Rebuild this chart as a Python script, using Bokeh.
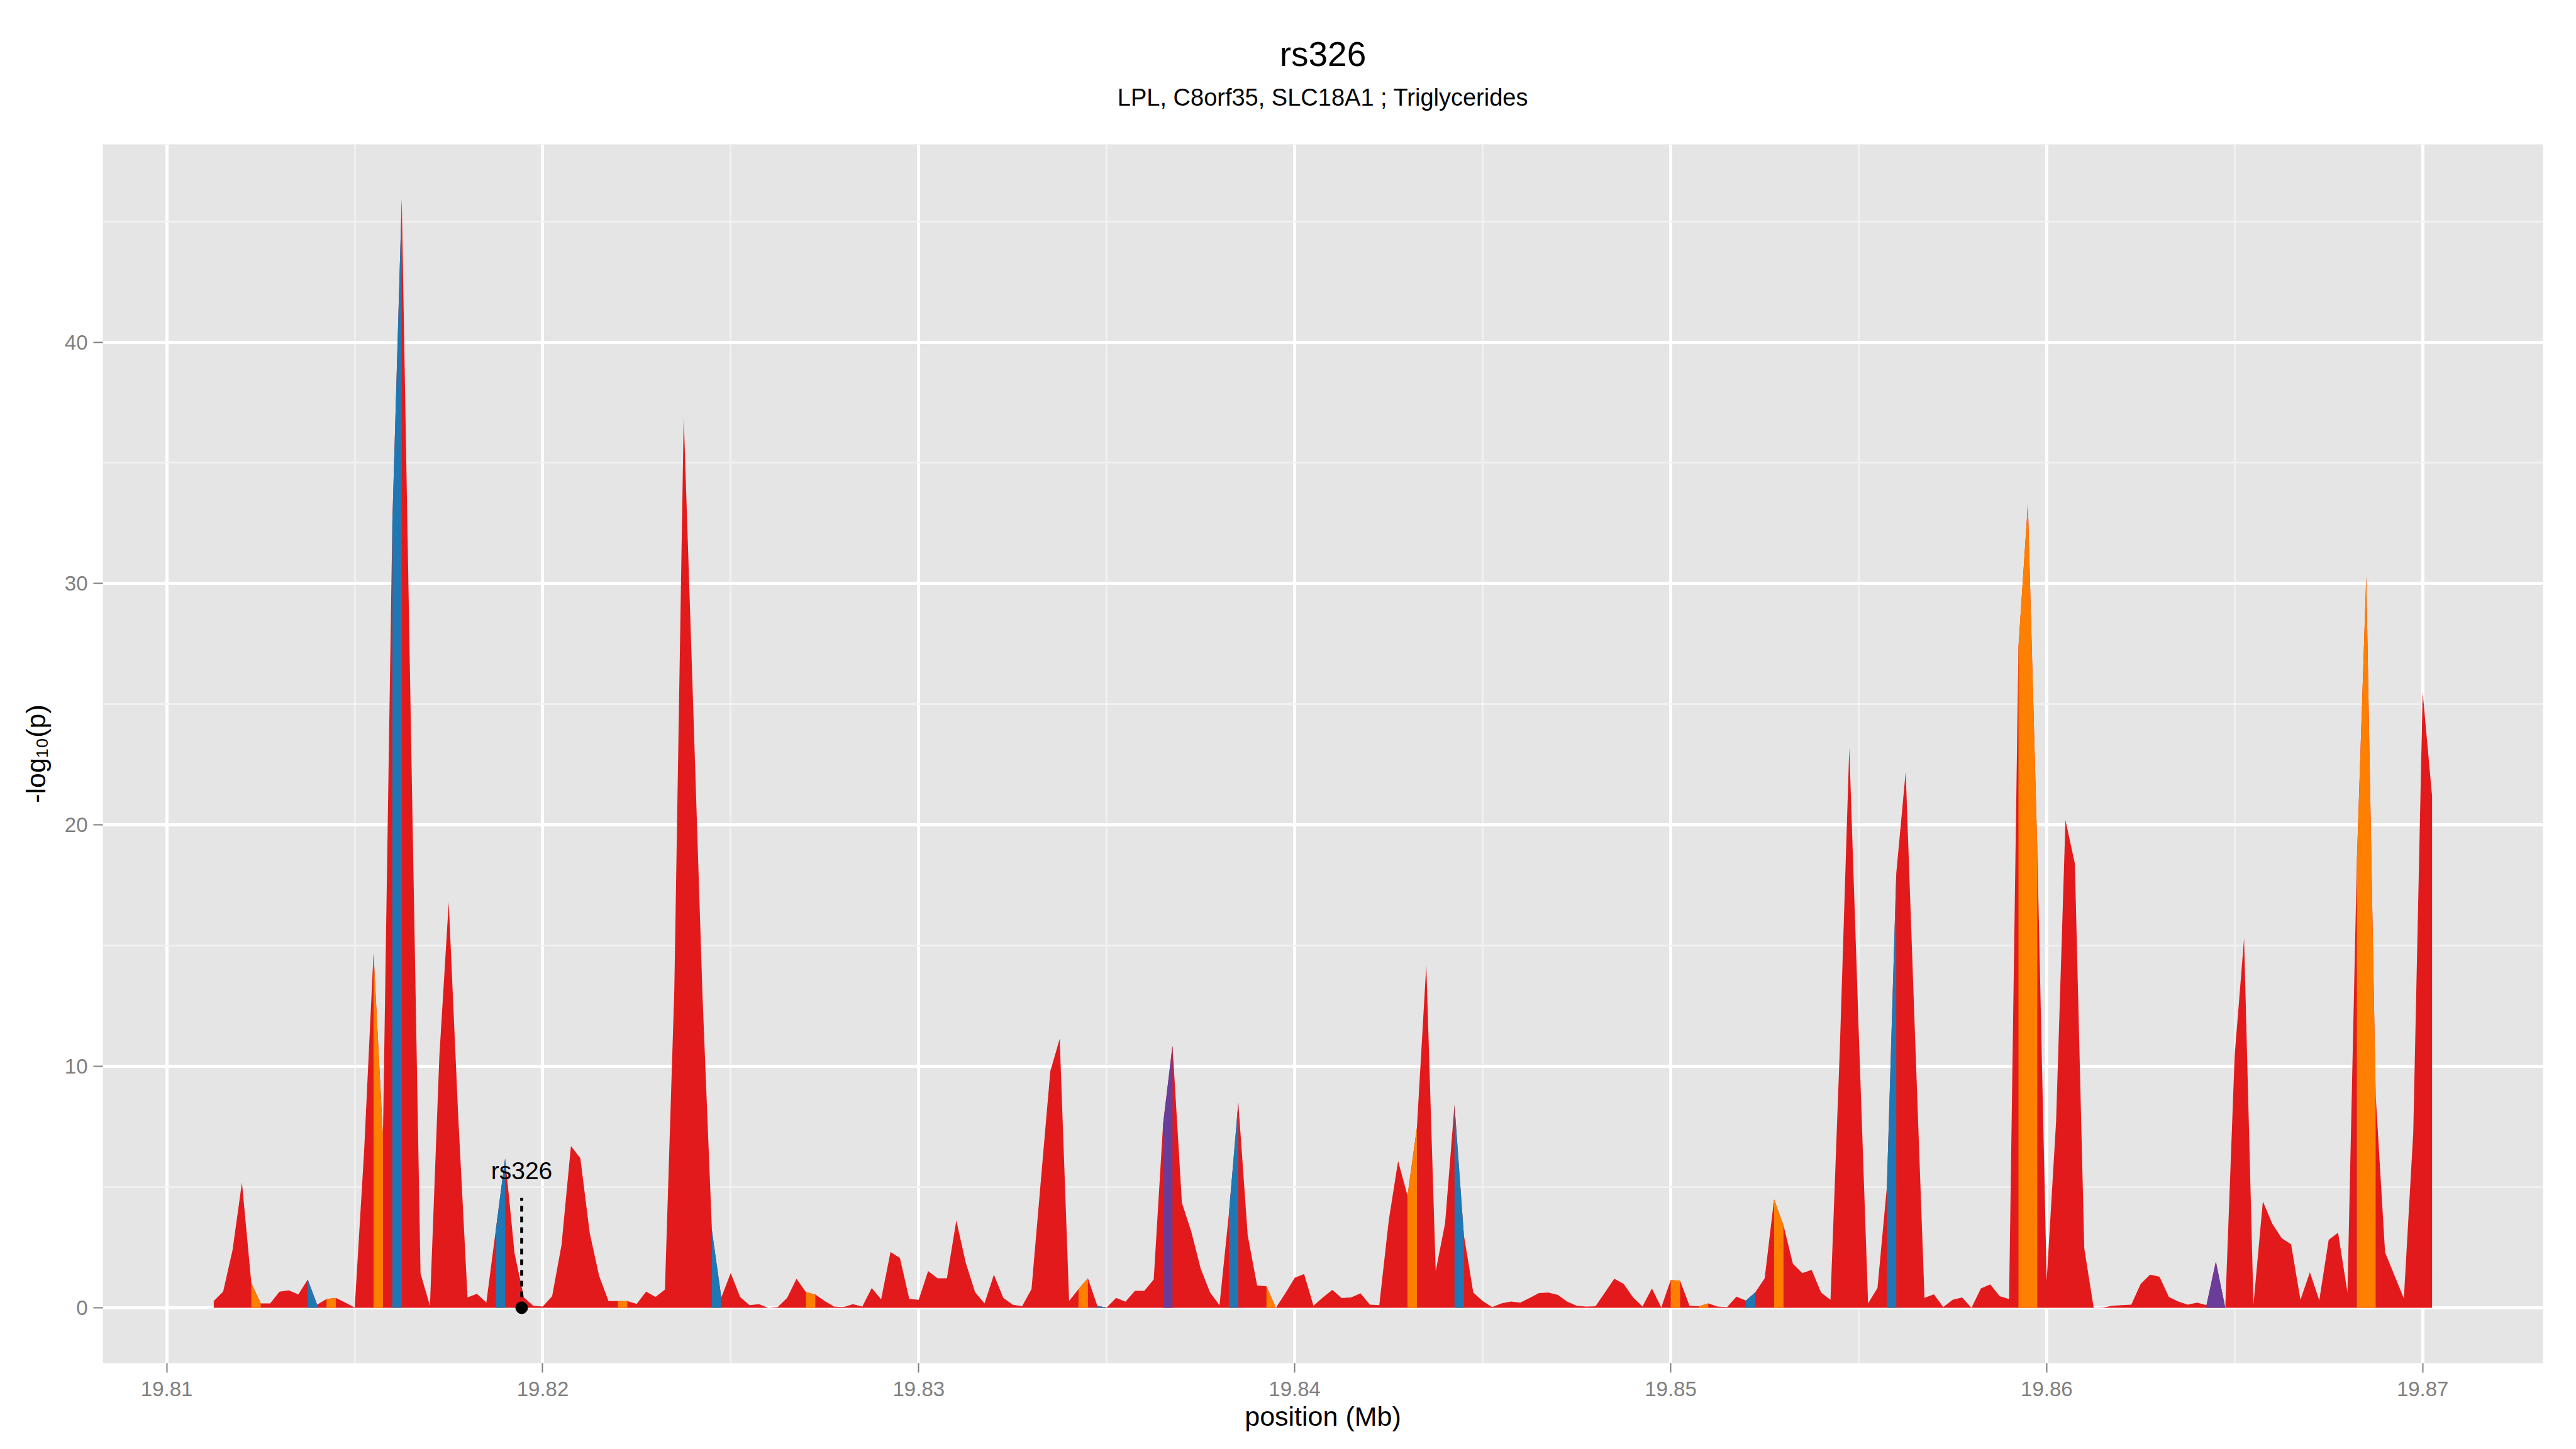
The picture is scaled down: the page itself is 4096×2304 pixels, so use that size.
from bokeh.plotting import figure
from bokeh.models import Range1d, Label, FixedTicker, Title
from bokeh.embed import file_html
from bokeh.resources import INLINE

# ---------------- data ----------------
position_mb = [
    19.81125, 19.8115, 19.81175, 19.812, 19.81225, 19.8125, 19.81275, 19.813,
    19.81325, 19.8135, 19.81375, 19.814, 19.81425, 19.8145, 19.81475, 19.815,
    19.81525, 19.8155, 19.81575, 19.816, 19.81625, 19.8165, 19.81675, 19.817,
    19.81725, 19.8175, 19.81775, 19.818, 19.81825, 19.8185, 19.81875, 19.819,
    19.81925, 19.8195, 19.81975, 19.82, 19.82025, 19.8205, 19.82075, 19.821,
    19.82125, 19.8215, 19.82175, 19.822, 19.82225, 19.8225, 19.82275, 19.823,
    19.82325, 19.8235, 19.82375, 19.824, 19.82425, 19.8245, 19.82475, 19.825,
    19.82525, 19.8255, 19.82575, 19.826, 19.82625, 19.8265, 19.82675, 19.827,
    19.82725, 19.8275, 19.82775, 19.828, 19.82825, 19.8285, 19.82875, 19.829,
    19.82925, 19.8295, 19.82975, 19.83, 19.83025, 19.8305, 19.83075, 19.831,
    19.83125, 19.8315, 19.83175, 19.832, 19.83225, 19.8325, 19.83275, 19.833,
    19.83325, 19.8335, 19.83375, 19.834, 19.83425, 19.8345, 19.83475, 19.835,
    19.83525, 19.8355, 19.83575, 19.836, 19.83625, 19.8365, 19.83675, 19.837,
    19.83725, 19.8375, 19.83775, 19.838, 19.83825, 19.8385, 19.83875, 19.839,
    19.83925, 19.8395, 19.83975, 19.84, 19.84025, 19.8405, 19.84075, 19.841,
    19.84125, 19.8415, 19.84175, 19.842, 19.84225, 19.8425, 19.84275, 19.843,
    19.84325, 19.8435, 19.84375, 19.844, 19.84425, 19.8445, 19.84475, 19.845,
    19.84525, 19.8455, 19.84575, 19.846, 19.84625, 19.8465, 19.84675, 19.847,
    19.84725, 19.8475, 19.84775, 19.848, 19.84825, 19.8485, 19.84875, 19.849,
    19.84925, 19.8495, 19.84975, 19.85, 19.85025, 19.8505, 19.85075, 19.851,
    19.85125, 19.8515, 19.85175, 19.852, 19.85225, 19.8525, 19.85275, 19.853,
    19.85325, 19.8535, 19.85375, 19.854, 19.85425, 19.8545, 19.85475, 19.855,
    19.85525, 19.8555, 19.85575, 19.856, 19.85625, 19.8565, 19.85675, 19.857,
    19.85725, 19.8575, 19.85775, 19.858, 19.85825, 19.8585, 19.85875, 19.859,
    19.85925, 19.8595, 19.85975, 19.86, 19.86025, 19.8605, 19.86075, 19.861,
    19.86125, 19.8615, 19.86175, 19.862, 19.86225, 19.8625, 19.86275, 19.863,
    19.86325, 19.8635, 19.86375, 19.864, 19.86425, 19.8645, 19.86475, 19.865,
    19.86525, 19.8655, 19.86575, 19.866, 19.86625, 19.8665, 19.86675, 19.867,
    19.86725, 19.8675, 19.86775, 19.868, 19.86825, 19.8685, 19.86875, 19.869,
    19.86925, 19.8695, 19.86975, 19.87, 19.87025,
]

neg_log10_p = [
    0.28, 0.67, 2.39, 5.19, 1.02, 0.18, 0.18, 0.67,
    0.72, 0.55, 1.17, 0.13, 0.36, 0.41, 0.21, 0.01,
    6.5, 14.7, 7.1, 32.5, 45.9, 23.5, 1.42, 0.08,
    10.4, 16.8, 8.0, 0.43, 0.58, 0.21, 3.2, 6.2,
    2.26, 0.43, 0.08, 0.05, 0.48, 2.6, 6.7, 6.2,
    3.1, 1.32, 0.28, 0.28, 0.28, 0.16, 0.67, 0.45,
    0.75, 13.2, 36.9, 25.0, 12.9, 3.2, 0.43, 1.44,
    0.45, 0.11, 0.15, 0.0, 0.03, 0.41, 1.2, 0.65,
    0.55, 0.28, 0.05, 0.03, 0.15, 0.05, 0.82, 0.35,
    2.31, 2.06, 0.36, 0.33, 1.52, 1.22, 1.22, 3.62,
    1.87, 0.64, 0.18, 1.37, 0.41, 0.13, 0.06, 0.77,
    5.3, 9.8, 11.14, 0.28, 0.77, 1.22, 0.08, 0.01,
    0.41, 0.25, 0.70, 0.70, 1.17, 7.62, 10.86, 4.35,
    3.15, 1.62, 0.63, 0.11, 3.9, 8.51, 3.0, 0.92,
    0.89, 0.0, 0.6, 1.24, 1.40, 0.08, 0.43, 0.74,
    0.40, 0.43, 0.60, 0.13, 0.11, 3.6, 6.08, 4.64,
    7.47, 14.2, 1.52, 3.5, 8.41, 3.0, 0.63, 0.28,
    0.03, 0.18, 0.26, 0.21, 0.41, 0.61, 0.63, 0.53,
    0.25, 0.08, 0.05, 0.06, 0.63, 1.20, 0.99, 0.43,
    0.05, 0.80, 0.01, 1.15, 1.12, 0.08, 0.06, 0.18,
    0.05, 0.03, 0.46, 0.30, 0.64, 1.22, 4.49, 3.42,
    1.82, 1.44, 1.57, 0.63, 0.33, 10.8, 23.2, 11.5,
    0.18, 0.82, 4.99, 18.0, 22.2, 11.2, 0.41, 0.56,
    0.03, 0.33, 0.43, 0.0, 0.80, 0.97, 0.48, 0.36,
    27.4, 33.3, 19.0, 1.12, 7.7, 20.2, 18.4, 2.46,
    0.0, 0.01, 0.08, 0.11, 0.13, 0.99, 1.37, 1.29,
    0.45, 0.26, 0.13, 0.21, 0.11, 1.91, 0.0, 10.45,
    15.3, 0.13, 4.41, 3.48, 2.88, 2.63, 0.33, 1.47,
    0.31, 2.81, 3.11, 0.63, 18.5, 30.3, 8.8, 2.3,
    1.34, 0.38, 7.27, 25.5, 21.2,
]

# index of the first point of each interval whose fill is not the default red
orange_intervals = [4, 12, 17, 43, 63, 92, 112, 127, 155, 158, 166, 192, 193, 228, 229]
blue_intervals = [10, 19, 30, 53, 94, 108, 132, 163, 178]
purple_intervals = [101, 212, 213]

x_ticks = [19.81, 19.82, 19.83, 19.84, 19.85, 19.86, 19.87]
x_minor = [19.815, 19.825, 19.835, 19.845, 19.855, 19.865]
y_ticks = [0, 10, 20, 30, 40]
y_minor = [5, 15, 25, 35, 45]

snp_name = "rs326"
snp_position = 19.81944
snp_label_y = 5.67
snp_line_top = 4.55

title_text = "rs326"
subtitle_text = "LPL, C8orf35, SLC18A1 ; Triglycerides"
x_title = "position (Mb)"
y_title = "-log\u2081\u2080(p)"

RED, ORANGE, BLUE, PURPLE = "#E31A1C", "#FF7F00", "#1F78B4", "#6A3D9A"
FONT = "Liberation Sans"

# ---------------- layout ----------------
B_LEFT, B_RIGHT, B_TOP, B_BOTTOM = 163, 45, 229, 129
FRAME_W, FRAME_H = 3880, 1938
W_FIG = B_LEFT + FRAME_W + B_RIGHT
H_FIG = B_TOP + FRAME_H + B_BOTTOM

x0, x1 = 19.8083, 19.8732
y0, y1 = -2.295, 48.195

p = figure(width=W_FIG, height=H_FIG, output_backend="svg", toolbar_location=None,
           x_range=Range1d(x0, x1), y_range=Range1d(y0, y1),
           min_border_left=B_LEFT, min_border_right=B_RIGHT,
           min_border_top=B_TOP, min_border_bottom=B_BOTTOM)
p.background_fill_color = "#E5E5E5"
p.border_fill_color = "white"
p.outline_line_color = None

# grid
p.xaxis.ticker = FixedTicker(ticks=x_ticks, minor_ticks=x_minor)
p.yaxis.ticker = FixedTicker(ticks=y_ticks, minor_ticks=y_minor)
for g in (p.xgrid, p.ygrid):
    g.grid_line_color = "white"
    g.grid_line_width = 5
    g.minor_grid_line_color = "#F2F2F2"
    g.minor_grid_line_width = 2.5

# axes
p.xaxis.major_label_overrides = {t: "%.2f" % t for t in x_ticks}
p.yaxis.major_label_overrides = {t: str(t) for t in y_ticks}
for ax in (p.xaxis, p.yaxis):
    ax.axis_line_color = None
    ax.major_tick_line_color = "#7F7F7F"
    ax.major_tick_line_width = 2
    ax.major_tick_out = 15
    ax.major_tick_in = 0
    ax.minor_tick_line_color = None
    ax.major_label_text_color = "#7F7F7F"
    ax.major_label_text_font = FONT
    ax.major_label_text_font_size = "33px"
    ax.axis_label_text_font = FONT
    ax.axis_label_text_font_size = "43px"
    ax.axis_label_text_font_style = "normal"
    ax.axis_label_text_color = "black"
p.xaxis.major_label_standoff = 14
p.yaxis.major_label_standoff = 9
p.xaxis.axis_label = x_title
p.yaxis.axis_label = y_title
p.xaxis.axis_label_standoff = 5
p.yaxis.axis_label_standoff = 19

# blank gap between the panel and the subtitle (items added first sit nearest the panel)
p.add_layout(Title(text="\u00a0", align="center", text_font=FONT, text_font_size="1px",
                   text_font_style="normal", text_color="white", standoff=46), "above")
p.add_layout(Title(text=subtitle_text, align="center", text_font=FONT,
                   text_font_size="38px", text_font_style="normal",
                   text_color="black", standoff=10), "above")
p.add_layout(Title(text=title_text, align="center", text_font=FONT,
                   text_font_size="55px", text_font_style="normal",
                   text_color="black", standoff=20), "above")

# ---------------- area ----------------
xs_all = [position_mb[0]] + position_mb + [position_mb[-1]]
ys_all = [0] + neg_log10_p + [0]
p.patch(xs_all, ys_all, fill_color=RED, line_color=None)

def runs(intervals):
    out = []
    s = sorted(intervals)
    start = prev = s[0]
    for k in s[1:]:
        if k == prev + 1:
            prev = k
        else:
            out.append((start, prev + 1))
            start = prev = k
    out.append((start, prev + 1))
    return out

pxs, pys, pcol = [], [], []
for colour, ints in ((ORANGE, orange_intervals), (BLUE, blue_intervals), (PURPLE, purple_intervals)):
    for a, b in runs(ints):
        pxs.append([position_mb[a]] + position_mb[a:b + 1] + [position_mb[b]])
        pys.append([0] + neg_log10_p[a:b + 1] + [0])
        pcol.append(colour)
p.patches(pxs, pys, fill_color=pcol, line_color=None)

# ---------------- SNP marker ----------------
p.segment(x0=[snp_position], y0=[0], x1=[snp_position], y1=[snp_line_top],
          line_color="black", line_width=4.6, line_dash="9 8")
p.scatter([snp_position], [0], size=19, color="black")
p.add_layout(Label(x=snp_position, y=snp_label_y, text=snp_name, text_align="center",
                   text_baseline="alphabetic", text_font=FONT, text_font_size="39px",
                   text_color="black"))

open("out.html", "w").write(file_html(p, INLINE))
